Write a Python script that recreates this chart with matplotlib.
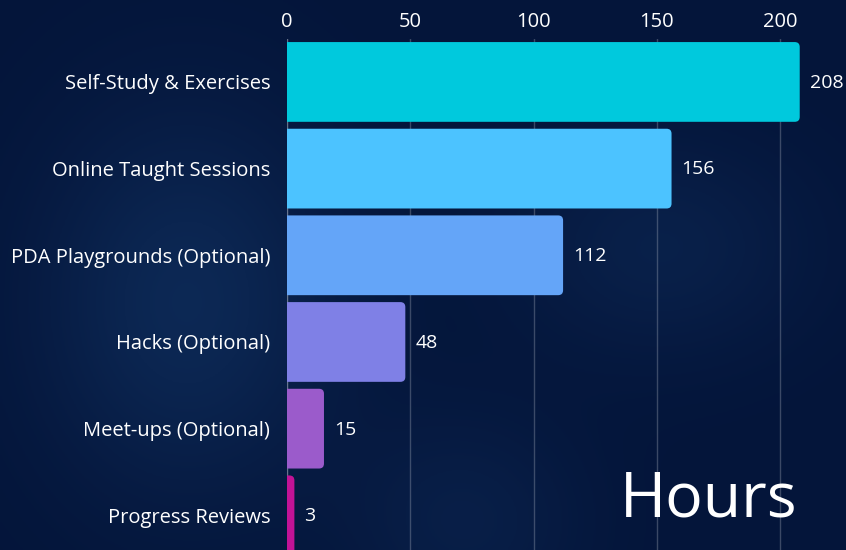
import numpy as np
import matplotlib
matplotlib.use("Agg")
import matplotlib.pyplot as plt
from matplotlib.patches import FancyBboxPatch

categories = ["Self-Study & Exercises", "Online Taught Sessions", "PDA Playgrounds (Optional)",
              "Hacks (Optional)", "Meet-ups (Optional)", "Progress Reviews"]
values = [208, 156, 112, 48, 15, 3]
colors = ["#00C9DD", "#4CC3FF", "#64A5F8", "#7F80E6", "#9B5BCB", "#C21396"]
xticks = [0, 50, 100, 150, 200]

plt.rcParams['font.family'] = ['Open Sans', 'DejaVu Sans']

W, H = 846, 550
fig = plt.figure(figsize=(W/100, H/100), dpi=100)

# background
bg = fig.add_axes([0, 0, 1, 1], zorder=0)
yy, xx = np.mgrid[0:1:200j, 0:1:300j]
c0 = np.array([0x04, 0x15, 0x3a]) / 255
c1 = np.array([0x12, 0x35, 0x66]) / 255
glow = np.exp(-((xx-0.22)**2/0.03 + (yy-0.55)**2/0.12)) * 0.6 \
     + np.exp(-((xx-0.78)**2/0.03 + (yy-0.45)**2/0.04)) * 0.35 \
     + np.exp(-((xx-0.55)**2/0.02 + (yy-0.95)**2/0.04)) * 0.3
glow = np.clip(glow, 0, 1)
img = c0[None, None, :] * (1-glow[..., None]) + c1[None, None, :] * glow[..., None]
bg.imshow(img, aspect='auto', extent=[0, 1, 0, 1], origin='upper')
bg.axis('off')

left = 287 / W
right = 1.0
top_px = 38.6
ax = fig.add_axes([left, 0, right-left, 1 - top_px/H], zorder=1)
ax.set_facecolor('none')
xmax = (W - 287) / 2.465
ax.set_xlim(0, xmax)
ax.set_ylim(5.40, -0.5)

bh = 0.92
r = 2.0
asp = (1/86.7) / (1/2.465)
for i, (v, c) in enumerate(zip(values, colors)):
    p = FancyBboxPatch((-5, i - bh/2), v + 5, bh,
                       boxstyle=f"round,pad=0,rounding_size={r}",
                       mutation_aspect=asp, facecolor=c, edgecolor='none', zorder=3)
    ax.add_patch(p)
    ax.text(v + 4, i + 0.01, str(v), va='center', ha='left', color='white', fontsize=14, zorder=4)

ax.set_yticks(range(len(categories)))
ax.set_yticklabels(categories)
ax.set_xticks(xticks)
ax.xaxis.tick_top()
ax.tick_params(axis='both', length=0, colors='white', labelsize=14.5)
ax.tick_params(axis='y', pad=12)
ax.tick_params(axis='x', pad=5)
for lbl in ax.get_yticklabels() + ax.get_xticklabels():
    lbl.set_color('white')
ax.grid(axis='x', color='#ffffff', alpha=0.22, linewidth=1, zorder=1)
ax.axvline(0, color='#ffffff', alpha=0.22, linewidth=1, zorder=1)
for s in ax.spines.values():
    s.set_visible(False)

fig.text(797/W, 1 - 500/H, "Hours", ha='right', va='center', color='white', fontsize=45)

fig.savefig("out.png", dpi=100)
